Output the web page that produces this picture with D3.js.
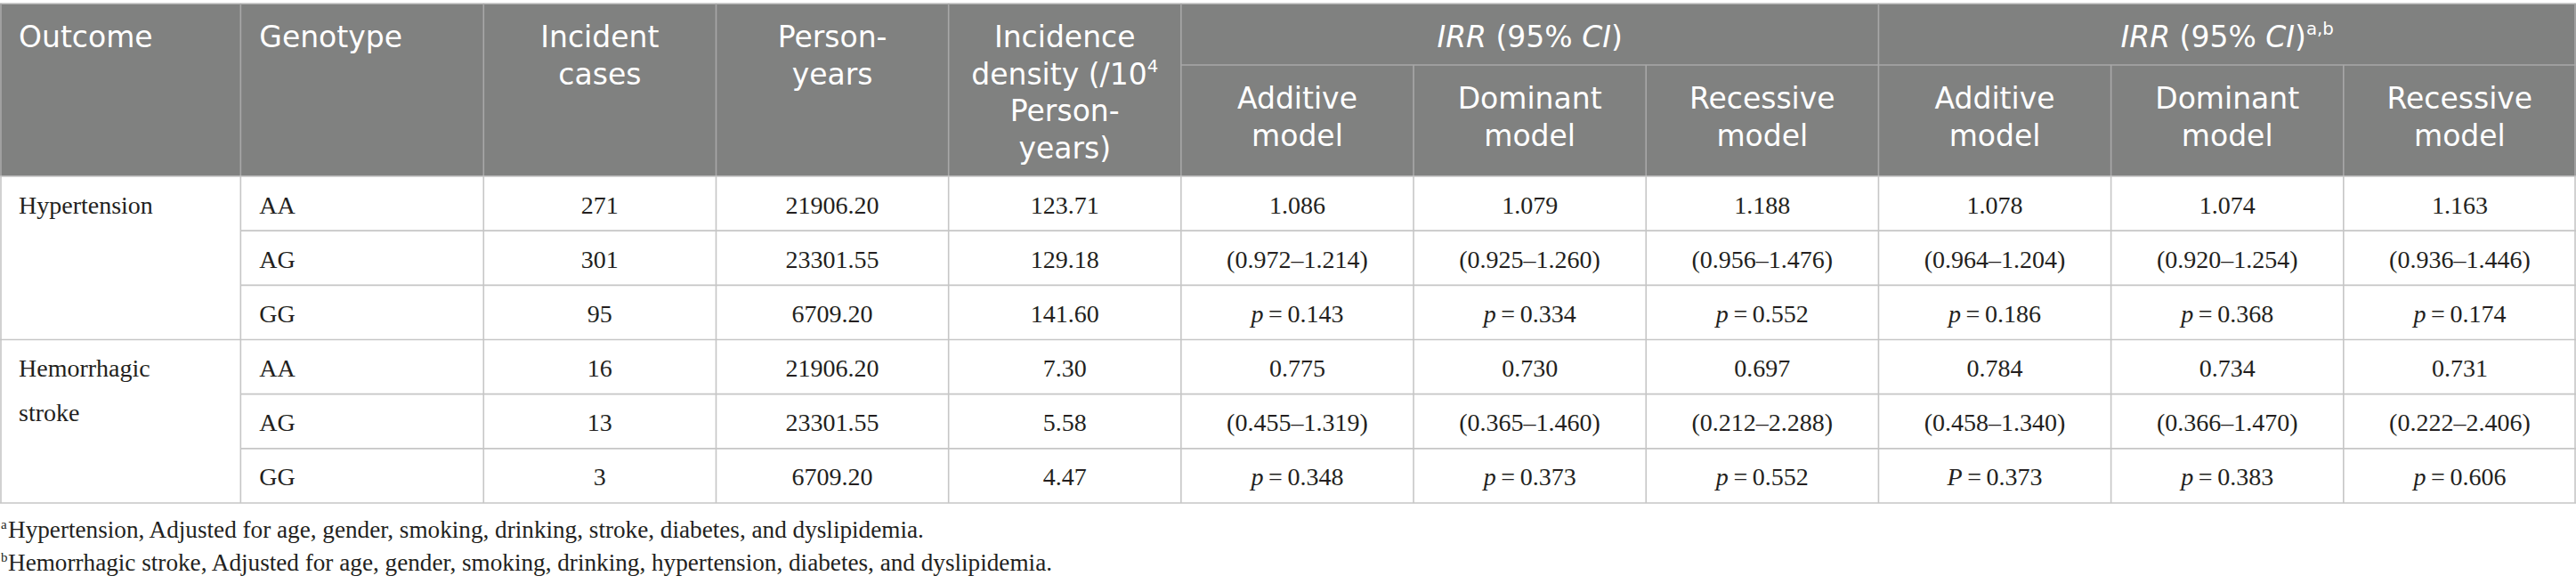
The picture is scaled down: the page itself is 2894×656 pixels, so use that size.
<!DOCTYPE html>
<html><head><meta charset="utf-8">
<script src="https://cdn.jsdelivr.net/npm/d3@7"></script>
<style>html,body{margin:0;padding:0;background:#fff;} svg{display:block}</style>
</head><body><svg id="chart"></svg>
<script>
// ---------------- data ----------------
const outcomes = ["Hypertension", "Hemorrhagic stroke"];
const genotypes = ["AA", "AG", "GG"];
const incidentCases = [271, 301, 95, 16, 13, 3];
const personYears = [21906.20, 23301.55, 6709.20, 21906.20, 23301.55, 6709.20];
const incidenceDensity = [123.71, 129.18, 141.60, 7.30, 5.58, 4.47];
const modelNames = ["Additive", "Dominant", "Recessive"];
const crudeIRR   = [[1.086, 1.079, 1.188], [0.775, 0.730, 0.697]];
const crudeLower = [[0.972, 0.925, 0.956], [0.455, 0.365, 0.212]];
const crudeUpper = [[1.214, 1.260, 1.476], [1.319, 1.460, 2.288]];
const crudeP     = [[0.143, 0.334, 0.552], [0.348, 0.373, 0.552]];
const crudePSymbol = [["p", "p", "p"], ["p", "p", "p"]];
const adjIRR   = [[1.078, 1.074, 1.163], [0.784, 0.734, 0.731]];
const adjLower = [[0.964, 0.920, 0.936], [0.458, 0.366, 0.222]];
const adjUpper = [[1.204, 1.254, 1.446], [1.340, 1.470, 2.406]];
const adjP     = [[0.186, 0.368, 0.174], [0.373, 0.383, 0.606]];
const adjPSymbol = [["p", "p", "p"], ["P", "p", "p"]];
const footnoteMarks = ["a", "b"];
const footnotes = [
  "Hypertension, Adjusted for age, gender, smoking, drinking, stroke, diabetes, and dyslipidemia.",
  "Hemorrhagic stroke, Adjusted for age, gender, smoking, drinking, hypertension, diabetes, and dyslipidemia."
];

// ---------------- layout ----------------
const W = 2894, H = 656;
const svg = d3.select("#chart").attr("width", W).attr("height", H);
svg.append("rect").attr("width", W).attr("height", H).attr("fill", "#fff");

const colWeights = [1.035, 1.045, 1, 1, 1, 1, 1, 1, 1, 1, 1];
const cum = [0]; colWeights.forEach(w => cum.push(cum[cum.length - 1] + w));
const x = d3.scaleLinear().domain([0, cum[cum.length - 1]]).range([0, W]);
const colL = i => x(cum[i]), colR = i => x(cum[i + 1]), colC = i => (colL(i) + colR(i)) / 2;

const headTop = 4, headMid = 73, headBot = 198, tableBot = 565;
const y = d3.scaleBand().domain(d3.range(6)).range([headBot, tableBot]);

const HEAD_FONT = "'DejaVu Sans', sans-serif", HEAD_FS = 33, HEAD_LH = 41.5, HEAD_BASE = 49;
const BODY_FONT = "'Liberation Serif', 'Times New Roman', serif", BODY_FS = 28;
const headFill = "#808180", headLine = "#a8a8a8", bodyLine = "#c6c6c6", ink = "#231f20";
const pad = 21;

// header background
svg.append("rect").attr("x", 0).attr("y", headTop).attr("width", W).attr("height", headBot - headTop).attr("fill", headFill);

// text helper: segments [{t, it, sup}]
function addText(g, xx, yy, anchor, segs, font, fs, fill) {
  const t = g.append("text").attr("x", xx).attr("y", yy).attr("text-anchor", anchor)
    .attr("font-family", font).attr("font-size", fs).attr("fill", fill);
  let shift = 0;
  segs.forEach(s => {
    const ts = t.append("tspan").text(s.t);
    if (s.it) ts.attr("font-style", "italic");
    if (s.sup) {
      ts.attr("font-size", fs * 0.6).attr("dy", -fs * 0.42 - shift); shift = -fs * 0.42;
    } else if (shift !== 0) {
      ts.attr("dy", -shift); shift = 0;
    }
  });
  return t;
}

const gH = svg.append("g");
// top-row header cells
const headerCols = [
  {c: 0, anchor: "start", lines: [[{t: "Outcome"}]]},
  {c: 1, anchor: "start", lines: [[{t: "Genotype"}]]},
  {c: 2, anchor: "middle", lines: [[{t: "Incident"}], [{t: "cases"}]]},
  {c: 3, anchor: "middle", lines: [[{t: "Person-"}], [{t: "years"}]]},
  {c: 4, anchor: "middle", lines: [[{t: "Incidence"}], [{t: "density (/10"}, {t: "4", sup: true}], [{t: "Person-"}], [{t: "years)"}]]}
];
headerCols.forEach(h => {
  const xx = h.anchor === "start" ? colL(h.c) + pad : colC(h.c);
  h.lines.forEach((ln, i) => addText(gH, xx, headTop + HEAD_BASE + i * HEAD_LH, h.anchor, ln, HEAD_FONT, HEAD_FS, "#fff"));
});
// spanning group headers
const groupHeads = [
  {c0: 5, c1: 7, segs: [{t: "IRR", it: true}, {t: " (95% "}, {t: "CI", it: true}, {t: ")"}]},
  {c0: 8, c1: 10, segs: [{t: "IRR", it: true}, {t: " (95% "}, {t: "CI", it: true}, {t: ")"}, {t: "a,b", sup: true}]}
];
groupHeads.forEach(g => addText(gH, (colL(g.c0) + colR(g.c1)) / 2, headTop + HEAD_BASE, "middle", g.segs, HEAD_FONT, HEAD_FS, "#fff"));
// model sub-headers
[5, 6, 7, 8, 9, 10].forEach((c, i) => {
  const m = modelNames[i % 3];
  addText(gH, colC(c), headMid + HEAD_BASE, "middle", [{t: m}], HEAD_FONT, HEAD_FS, "#fff");
  addText(gH, colC(c), headMid + HEAD_BASE + HEAD_LH, "middle", [{t: "model"}], HEAD_FONT, HEAD_FS, "#fff");
});

// header lines
const gL = svg.append("g").attr("stroke-width", 1.6).attr("fill", "none");
gL.append("line").attr("x1", 0).attr("x2", W).attr("y1", headTop).attr("y2", headTop).attr("stroke", "#c4c4c4");
gL.append("line").attr("x1", colL(5)).attr("x2", W).attr("y1", headMid).attr("y2", headMid).attr("stroke", headLine);
d3.range(1, 11).forEach(i => {
  const sub = [6, 7, 9, 10].includes(i);
  gL.append("line").attr("x1", colL(i)).attr("x2", colL(i))
    .attr("y1", sub ? headMid : headTop).attr("y2", headBot).attr("stroke", headLine);
});
gL.append("line").attr("x1", 1).attr("x2", 1).attr("y1", headTop).attr("y2", headBot).attr("stroke", headLine);
gL.append("line").attr("x1", W - 1).attr("x2", W - 1).attr("y1", headTop).attr("y2", headBot).attr("stroke", headLine);

// body lines
d3.range(0, 7).forEach(r => {
  const yy = r < 6 ? y(r) : tableBot;
  const full = (r % 3 === 0);
  gL.append("line").attr("x1", full ? 0 : colL(1)).attr("x2", W).attr("y1", yy).attr("y2", yy).attr("stroke", bodyLine);
});
d3.range(0, 12).forEach(i => {
  const xx = i === 0 ? 1 : (i === 11 ? W - 1 : colL(i));
  gL.append("line").attr("x1", xx).attr("x2", xx).attr("y1", headBot).attr("y2", tableBot).attr("stroke", bodyLine);
});

// body text
const gB = svg.append("g");
const f3 = d3.format(".3f"), f2 = d3.format(".2f");
const BODY_BASE = 41.5, BODY_LH = 50;
outcomes.forEach((o, k) => {
  const words = o.split(" ");
  words.forEach((w, i) => addText(gB, colL(0) + pad, y(k * 3) + BODY_BASE + i * BODY_LH, "start", [{t: w}], BODY_FONT, BODY_FS, ink));
});
d3.range(6).forEach(r => {
  const base = y(r) + BODY_BASE;
  addText(gB, colL(1) + pad, base, "start", [{t: genotypes[r % 3]}], BODY_FONT, BODY_FS, ink);
  addText(gB, colC(2), base, "middle", [{t: String(incidentCases[r])}], BODY_FONT, BODY_FS, ink);
  addText(gB, colC(3), base, "middle", [{t: f2(personYears[r])}], BODY_FONT, BODY_FS, ink);
  addText(gB, colC(4), base, "middle", [{t: f2(incidenceDensity[r])}], BODY_FONT, BODY_FS, ink);
});
const groups = [
  {c0: 5, est: crudeIRR, lo: crudeLower, hi: crudeUpper, p: crudeP, ps: crudePSymbol},
  {c0: 8, est: adjIRR, lo: adjLower, hi: adjUpper, p: adjP, ps: adjPSymbol}
];
groups.forEach(g => {
  outcomes.forEach((o, k) => {
    modelNames.forEach((m, j) => {
      const cx = colC(g.c0 + j);
      addText(gB, cx, y(k * 3) + BODY_BASE, "middle", [{t: f3(g.est[k][j])}], BODY_FONT, BODY_FS, ink);
      addText(gB, cx, y(k * 3 + 1) + BODY_BASE, "middle", [{t: "(" + f3(g.lo[k][j]) + "\u2013" + f3(g.hi[k][j]) + ")"}], BODY_FONT, BODY_FS, ink);
      addText(gB, cx, y(k * 3 + 2) + BODY_BASE, "middle", [{t: g.ps[k][j], it: true}, {t: "\u2009=\u2009" + f3(g.p[k][j])}], BODY_FONT, BODY_FS, ink);
    });
  });
});

// footnotes
const gF = svg.append("g");
const FOOT_FS = 27.2;
footnotes.forEach((f, i) => {
  const base = 604 + i * 37;
  gF.append("text").attr("x", 1).attr("y", base - 10).attr("font-family", BODY_FONT).attr("font-size", 15).attr("fill", ink).text(footnoteMarks[i]);
  gF.append("text").attr("x", 9).attr("y", base).attr("font-family", BODY_FONT).attr("font-size", FOOT_FS).attr("fill", ink).text(f);
});
</script>
</body></html>
